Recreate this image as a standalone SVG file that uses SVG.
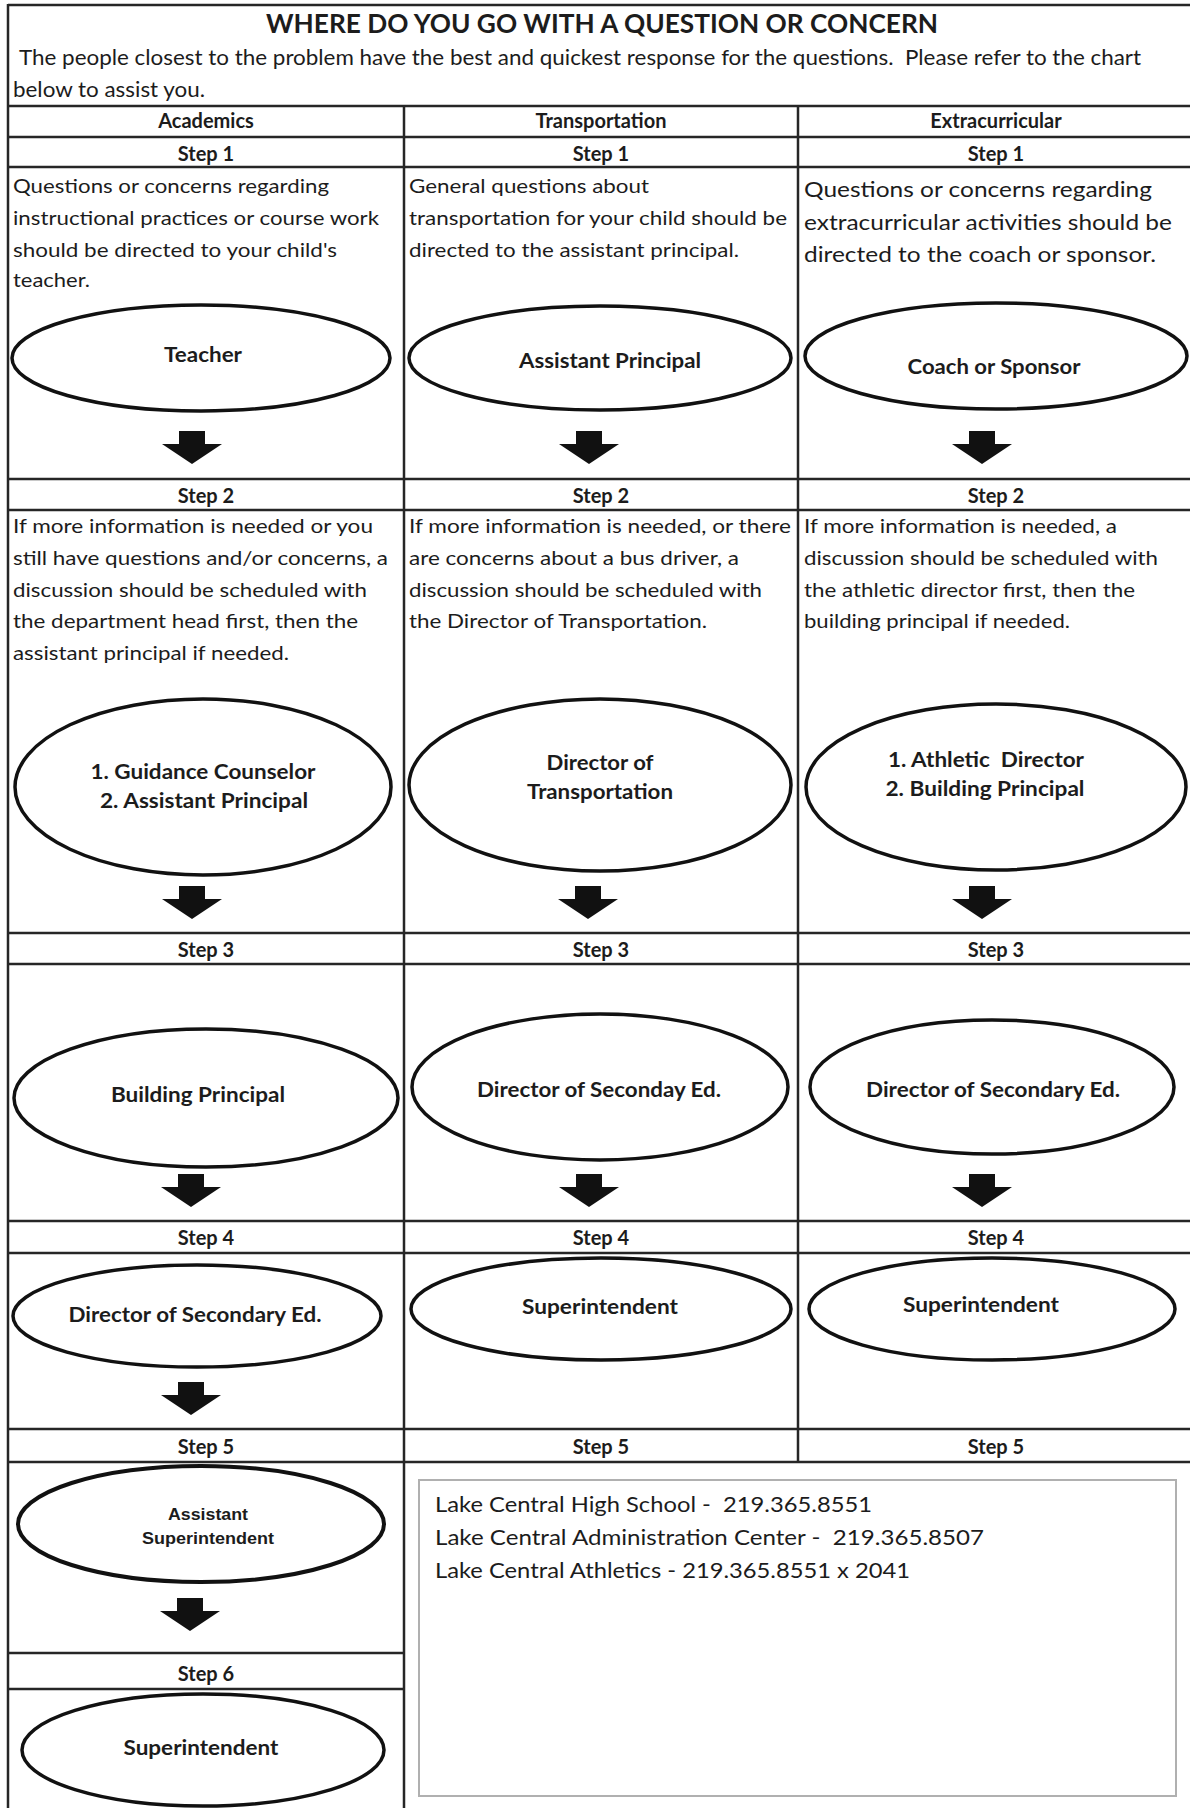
<svg xmlns="http://www.w3.org/2000/svg" width="1190" height="1808" viewBox="0 0 1190 1808">
<style>
  text { font-family: Lato, "Liberation Sans", sans-serif; fill: #1c1c1c; }
  .title { font-size: 26px; font-weight: bold; }
  .sub { font-size: 21px; }
  .hdr { font-size: 20px; font-weight: bold; text-anchor: middle; }
  .body { font-size: 20px; }
  .body3 { font-size: 22px; }
  .lbl { font-size: 20px; font-weight: bold; text-anchor: middle; }
  .lbla { font-family: "Liberation Sans", Arial, sans-serif; font-size: 17px; font-weight: bold; text-anchor: middle; }
  .contact { font-size: 22px; }
  .grid line { stroke: #262626; stroke-width: 2.5; }
  ellipse.node { fill: #fff; stroke: #111; stroke-width: 3.5; }
  .arrow { fill: #111; }
</style>
<defs>
  <polygon id="arr" points="-13,0 13,0 13,13 30,13 0,33 -30,13 -13,13"/>
</defs>
<rect x="0" y="0" width="1190" height="1808" fill="#fff"/>

<g id="header">
  <text class="title" x="266" y="33" textLength="672" lengthAdjust="spacingAndGlyphs">WHERE DO YOU GO WITH A QUESTION OR CONCERN</text>
  <text class="sub" x="19" y="65" textLength="1122" lengthAdjust="spacingAndGlyphs" xml:space="preserve">The people closest to the problem have the best and quickest response for the questions.  Please refer to the chart</text>
  <text class="sub" x="13" y="97" textLength="192" lengthAdjust="spacingAndGlyphs">below to assist you.</text>
</g>

<g id="grid" class="grid">
  <line x1="8" y1="5" x2="1190" y2="5"/>
  <line x1="8" y1="4" x2="8" y2="1808"/>
  <line x1="8" y1="106" x2="1190" y2="106"/>
  <line x1="8" y1="137" x2="1190" y2="137"/>
  <line x1="8" y1="167" x2="1190" y2="167"/>
  <line x1="8" y1="479" x2="1190" y2="479"/>
  <line x1="8" y1="510" x2="1190" y2="510"/>
  <line x1="8" y1="933" x2="1190" y2="933"/>
  <line x1="8" y1="964" x2="1190" y2="964"/>
  <line x1="8" y1="1221" x2="1190" y2="1221"/>
  <line x1="8" y1="1253" x2="1190" y2="1253"/>
  <line x1="8" y1="1429" x2="1190" y2="1429"/>
  <line x1="8" y1="1462" x2="1190" y2="1462"/>
  <line x1="8" y1="1653" x2="404" y2="1653"/>
  <line x1="8" y1="1689" x2="404" y2="1689"/>
  <line x1="404" y1="106" x2="404" y2="1808"/>
  <line x1="798" y1="106" x2="798" y2="1462"/>
</g>

<g id="column-headers">
  <text class="hdr" x="206" y="128">Academics</text>
  <text class="hdr" x="601" y="128">Transportation</text>
  <text class="hdr" x="996" y="128">Extracurricular</text>
</g>

<g id="step-labels">
  <text class="hdr" x="206" y="161">Step 1</text>
  <text class="hdr" x="601" y="161">Step 1</text>
  <text class="hdr" x="996" y="161">Step 1</text>
  <text class="hdr" x="206" y="503">Step 2</text>
  <text class="hdr" x="601" y="503">Step 2</text>
  <text class="hdr" x="996" y="503">Step 2</text>
  <text class="hdr" x="206" y="957">Step 3</text>
  <text class="hdr" x="601" y="957">Step 3</text>
  <text class="hdr" x="996" y="957">Step 3</text>
  <text class="hdr" x="206" y="1245">Step 4</text>
  <text class="hdr" x="601" y="1245">Step 4</text>
  <text class="hdr" x="996" y="1245">Step 4</text>
  <text class="hdr" x="206" y="1454">Step 5</text>
  <text class="hdr" x="601" y="1454">Step 5</text>
  <text class="hdr" x="996" y="1454">Step 5</text>
  <text class="hdr" x="206" y="1681">Step 6</text>
</g>

<g id="step1-text">
  <text class="body" x="13" y="193" textLength="316" lengthAdjust="spacingAndGlyphs">Questions or concerns regarding</text>
  <text class="body" x="13" y="225" textLength="366" lengthAdjust="spacingAndGlyphs">instructional practices or course work</text>
  <text class="body" x="13" y="257" textLength="324" lengthAdjust="spacingAndGlyphs">should be directed to your child's</text>
  <text class="body" x="13" y="287" textLength="77" lengthAdjust="spacingAndGlyphs">teacher.</text>
  <text class="body" x="409" y="193" textLength="240" lengthAdjust="spacingAndGlyphs">General questions about</text>
  <text class="body" x="409" y="225" textLength="378" lengthAdjust="spacingAndGlyphs">transportation for your child should be</text>
  <text class="body" x="409" y="257" textLength="330" lengthAdjust="spacingAndGlyphs">directed to the assistant principal.</text>
  <text class="body3" x="804" y="197" textLength="348" lengthAdjust="spacingAndGlyphs">Questions or concerns regarding</text>
  <text class="body3" x="804" y="230" textLength="368" lengthAdjust="spacingAndGlyphs">extracurricular activities should be</text>
  <text class="body3" x="804" y="262" textLength="352" lengthAdjust="spacingAndGlyphs">directed to the coach or sponsor.</text>
</g>

<g id="step2-text">
  <text class="body" x="13" y="533" textLength="360" lengthAdjust="spacingAndGlyphs">If more information is needed or you</text>
  <text class="body" x="13" y="565" textLength="375" lengthAdjust="spacingAndGlyphs">still have questions and/or concerns, a</text>
  <text class="body" x="13" y="597" textLength="354" lengthAdjust="spacingAndGlyphs">discussion should be scheduled with</text>
  <text class="body" x="13" y="628" textLength="345" lengthAdjust="spacingAndGlyphs">the department head first, then the</text>
  <text class="body" x="13" y="660" textLength="276" lengthAdjust="spacingAndGlyphs">assistant principal if needed.</text>
  <text class="body" x="409" y="533" textLength="382" lengthAdjust="spacingAndGlyphs">If more information is needed, or there</text>
  <text class="body" x="409" y="565" textLength="330" lengthAdjust="spacingAndGlyphs">are concerns about a bus driver, a</text>
  <text class="body" x="409" y="597" textLength="353" lengthAdjust="spacingAndGlyphs">discussion should be scheduled with</text>
  <text class="body" x="409" y="628" textLength="298" lengthAdjust="spacingAndGlyphs">the Director of Transportation.</text>
  <text class="body" x="804" y="533" textLength="313" lengthAdjust="spacingAndGlyphs">If more information is needed, a</text>
  <text class="body" x="804" y="565" textLength="354" lengthAdjust="spacingAndGlyphs">discussion should be scheduled with</text>
  <text class="body" x="804" y="597" textLength="331" lengthAdjust="spacingAndGlyphs">the athletic director first, then the</text>
  <text class="body" x="804" y="628" textLength="266" lengthAdjust="spacingAndGlyphs">building principal if needed.</text>
</g>

<g id="node-teacher">
  <ellipse class="node" cx="201" cy="358" rx="189" ry="53"/>
  <text class="lbl" x="203" y="362" textLength="78" lengthAdjust="spacingAndGlyphs">Teacher</text>
</g>
<g id="node-assistant-principal">
  <ellipse class="node" cx="600" cy="358" rx="191" ry="52"/>
  <text class="lbl" x="610" y="368" textLength="182" lengthAdjust="spacingAndGlyphs">Assistant Principal</text>
</g>
<g id="node-coach">
  <ellipse class="node" cx="996" cy="356" rx="191" ry="53"/>
  <text class="lbl" x="994" y="374" textLength="173" lengthAdjust="spacingAndGlyphs">Coach or Sponsor</text>
</g>
<g id="node-guidance">
  <ellipse class="node" cx="203" cy="787" rx="188" ry="88"/>
  <text class="lbl" x="203" y="779" textLength="225" lengthAdjust="spacingAndGlyphs">1. Guidance Counselor</text>
  <text class="lbl" x="204" y="808" textLength="208" lengthAdjust="spacingAndGlyphs">2. Assistant Principal</text>
</g>
<g id="node-director-transportation">
  <ellipse class="node" cx="600" cy="785" rx="191" ry="86"/>
  <text class="lbl" x="600" y="770" textLength="107" lengthAdjust="spacingAndGlyphs">Director of</text>
  <text class="lbl" x="600" y="799" textLength="146" lengthAdjust="spacingAndGlyphs">Transportation</text>
</g>
<g id="node-athletic">
  <ellipse class="node" cx="996" cy="787" rx="190" ry="83"/>
  <text class="lbl" x="986" y="767" textLength="196" lengthAdjust="spacingAndGlyphs" xml:space="preserve">1. Athletic  Director</text>
  <text class="lbl" x="985" y="796" textLength="199" lengthAdjust="spacingAndGlyphs">2. Building Principal</text>
</g>
<g id="node-building-principal">
  <ellipse class="node" cx="206" cy="1098" rx="192" ry="69"/>
  <text class="lbl" x="198" y="1102" textLength="174" lengthAdjust="spacingAndGlyphs">Building Principal</text>
</g>
<g id="node-seconday-ed">
  <ellipse class="node" cx="600" cy="1087" rx="188" ry="73"/>
  <text class="lbl" x="599" y="1097" textLength="244" lengthAdjust="spacingAndGlyphs">Director of Seconday Ed.</text>
</g>
<g id="node-secondary-ed-extra">
  <ellipse class="node" cx="992" cy="1087" rx="182" ry="67"/>
  <text class="lbl" x="993" y="1097" textLength="254" lengthAdjust="spacingAndGlyphs">Director of Secondary Ed.</text>
</g>
<g id="node-secondary-ed-acad">
  <ellipse class="node" cx="197" cy="1316" rx="184" ry="51"/>
  <text class="lbl" x="195" y="1322" textLength="253" lengthAdjust="spacingAndGlyphs">Director of Secondary Ed.</text>
</g>
<g id="node-superintendent-trans">
  <ellipse class="node" cx="601" cy="1309" rx="190" ry="51"/>
  <text class="lbl" x="600" y="1314" textLength="156" lengthAdjust="spacingAndGlyphs">Superintendent</text>
</g>
<g id="node-superintendent-extra">
  <ellipse class="node" cx="992" cy="1309" rx="183" ry="51"/>
  <text class="lbl" x="981" y="1312" textLength="156" lengthAdjust="spacingAndGlyphs">Superintendent</text>
</g>
<g id="node-assistant-superintendent">
  <ellipse class="node" cx="201" cy="1524" rx="183" ry="58" style="stroke-width:4"/>
  <text class="lbla" x="208" y="1520" textLength="80" lengthAdjust="spacingAndGlyphs">Assistant</text>
  <text class="lbla" x="208" y="1544" textLength="132" lengthAdjust="spacingAndGlyphs">Superintendent</text>
</g>
<g id="node-superintendent-acad">
  <ellipse class="node" cx="203" cy="1750" rx="181" ry="56"/>
  <text class="lbl" x="201" y="1755" textLength="155" lengthAdjust="spacingAndGlyphs">Superintendent</text>
</g>

<g id="connectors" class="arrow">
  <use href="#arr" x="192" y="431"/>
  <use href="#arr" x="589" y="431"/>
  <use href="#arr" x="982" y="431"/>
  <use href="#arr" x="192" y="886"/>
  <use href="#arr" x="588" y="886"/>
  <use href="#arr" x="982" y="886"/>
  <use href="#arr" x="191" y="1174"/>
  <use href="#arr" x="589" y="1174"/>
  <use href="#arr" x="982" y="1174"/>
  <use href="#arr" x="191" y="1382"/>
  <use href="#arr" x="190" y="1598"/>
</g>

<g id="contacts">
  <rect x="419" y="1480" width="757" height="316" fill="none" stroke="#b0b0b0" stroke-width="2"/>
  <text class="contact" x="435" y="1512" textLength="437" lengthAdjust="spacingAndGlyphs" xml:space="preserve">Lake Central High School -  219.365.8551</text>
  <text class="contact" x="435" y="1545" textLength="549" lengthAdjust="spacingAndGlyphs" xml:space="preserve">Lake Central Administration Center -  219.365.8507</text>
  <text class="contact" x="435" y="1578" textLength="475" lengthAdjust="spacingAndGlyphs">Lake Central Athletics - 219.365.8551 x 2041</text>
</g>
</svg>
